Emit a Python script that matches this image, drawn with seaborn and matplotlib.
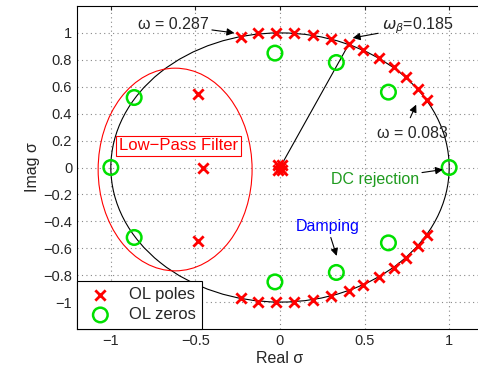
import matplotlib

matplotlib.use("Agg")
import matplotlib.pyplot as plt
import numpy as np
import pandas as pd
import seaborn as sns
from matplotlib.patches import Circle, Ellipse

# open-loop poles, upper half (lower half is the conjugate)
pole_re_upper = [-0.233, -0.130, -0.024, 0.083, 0.195, 0.302, 0.408,
                 0.491, 0.586, 0.675, 0.746, 0.817, 0.870, -0.487]
pole_im_upper = [0.968, 1.000, 1.003, 1.000, 0.985, 0.956, 0.919,
                 0.874, 0.815, 0.748, 0.674, 0.585, 0.504, 0.546]
# real-axis poles and the cluster near the origin
pole_re_real = [-0.454, -0.012, 0.012, 0.0, -0.012, 0.012]
pole_im_real = [0.0, 0.015, 0.015, 0.0, -0.015, -0.015]

# open-loop zeros, upper half and real axis
zero_re_upper = [-0.862, -0.030, 0.333, 0.641]
zero_im_upper = [0.520, 0.850, 0.780, 0.560]
zero_re_real = [-1.0, 1.0]
zero_im_real = [0.0, 0.0]

x_ticks = [-1, -0.5, 0, 0.5, 1]
x_tick_labels = ["\u22121", "\u22120.5", "0", "0.5", "1"]
y_ticks = [-1, -0.8, -0.6, -0.4, -0.2, 0, 0.2, 0.4, 0.6, 0.8, 1]
y_tick_labels = ["\u22121", "\u22120.8", "\u22120.6", "\u22120.4", "\u22120.2", "0",
                 "0.2", "0.4", "0.6", "0.8", "1"]

poles = pd.DataFrame({
    "re": pole_re_upper + pole_re_upper + pole_re_real,
    "im": pole_im_upper + [-v for v in pole_im_upper] + pole_im_real,
})
zeros = pd.DataFrame({
    "re": zero_re_upper + zero_re_upper + zero_re_real,
    "im": zero_im_upper + [-v for v in zero_im_upper] + zero_im_real,
})

sns.set_style("white")
plt.rcParams["font.family"] = ["Liberation Sans", "DejaVu Sans"]

fig = plt.figure(figsize=(4.78, 3.70), dpi=100)
ax = fig.add_axes([77 / 478, 41 / 370, 406 / 478, 323 / 370])

# unit circle and low-pass region
ax.add_patch(Circle((0, 0), 1.0, fill=False, color="black", lw=0.8, zorder=1))
ax.add_patch(Ellipse((-0.62, -0.015), 0.91, 1.506, fill=False, color="red", lw=0.8, zorder=1))

# line to the omega_beta pole
ax.plot([0, pole_re_upper[6]], [0, pole_im_upper[6]], color="black", lw=0.8, zorder=1)

sns.scatterplot(data=poles, x="re", y="im", marker="x", color="red", s=55,
                linewidth=2.0, ax=ax, label="OL poles", zorder=3)
sns.scatterplot(data=zeros, x="re", y="im", marker="o", facecolors="none",
                edgecolor="#00e000", s=110, linewidth=1.8, ax=ax, label="OL zeros", zorder=3)

fs = 11.5
arrow = dict(arrowstyle="-|>", color="black", lw=0.8, mutation_scale=11, shrinkA=0, shrinkB=0)
ax.annotate("\u03c9 = 0.287", xy=(-0.27, 1.0), xytext=(-0.84, 1.06), fontsize=fs,
            ha="left", va="center", arrowprops=arrow)
ax.annotate(r"$\omega_\beta$=0.185", xy=(0.43, 0.963), xytext=(0.60, 1.05), fontsize=fs,
            ha="left", va="center", arrowprops=arrow)
ax.text(0.575, 0.25, "\u03c9 = 0.083", fontsize=fs, ha="left", va="center")
ax.annotate("", xy=(0.805, 0.467), xytext=(0.77, 0.37), arrowprops=arrow)
ax.annotate("DC rejection", xy=(0.963, -0.015), xytext=(0.82, -0.089), fontsize=fs,
            ha="right", va="center", color="#1f9b1f", arrowprops=arrow)
ax.annotate("Damping", xy=(0.335, -0.657), xytext=(0.28, -0.44), fontsize=fs,
            ha="center", va="center", color="blue", arrowprops=arrow)
ax.text(-0.60, 0.163, "Low\u2212Pass Filter", fontsize=12, color="red", ha="center", va="center",
        bbox=dict(boxstyle="square,pad=0.15", facecolor="white", edgecolor="red", lw=0.8))

ax.set_xlim(-1.2, 1.2)
ax.set_ylim(-1.2, 1.2)
ax.set_xticks(x_ticks)
ax.set_xticklabels(x_tick_labels)
ax.set_yticks(y_ticks)
ax.set_yticklabels(y_tick_labels)
ax.tick_params(direction="in", top=True, right=True, length=3, labelsize=10.5, width=0.8)
ax.grid(True, linestyle=(0, (1, 3)), color="#888888", lw=0.8)
for spine in ax.spines.values():
    spine.set_color("black")
    spine.set_linewidth(0.8)
ax.set_xlabel("Real \u03c3", fontsize=11.5, labelpad=2)
ax.set_ylabel("Imag \u03c3", fontsize=11.5, labelpad=2)

leg = ax.legend(loc="lower left", borderaxespad=0, fontsize=12, fancybox=False,
                framealpha=1, edgecolor="black", handletextpad=0.7, borderpad=0.4,
                labelspacing=0.3)
leg.get_frame().set_linewidth(0.8)

fig.savefig("out.png", dpi=100)
